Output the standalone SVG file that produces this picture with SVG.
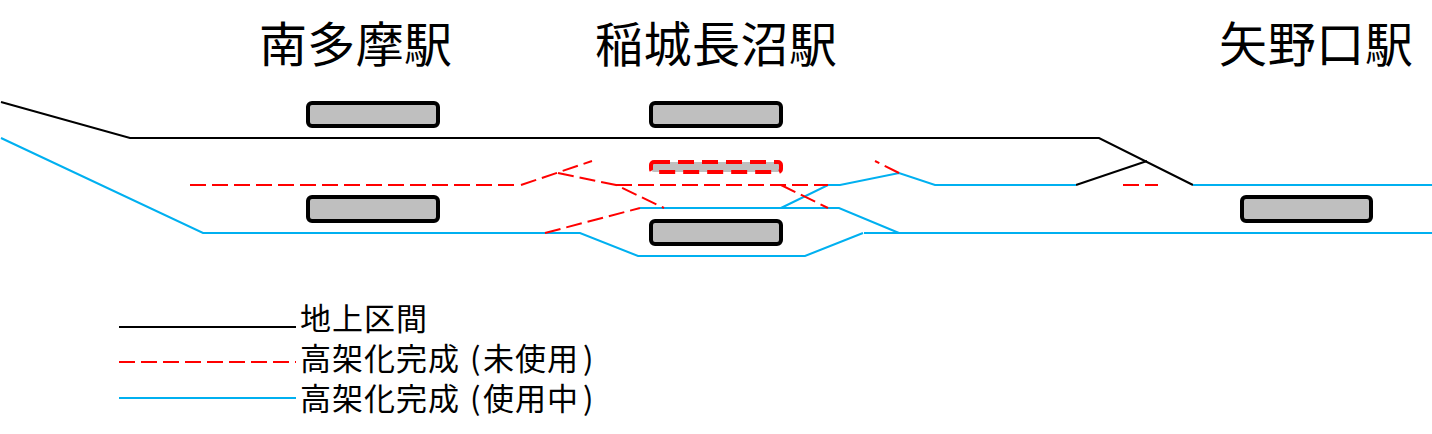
<svg xmlns="http://www.w3.org/2000/svg" width="1432" height="434" viewBox="0 0 1432 434">
<style>
.t{font-family:"Noto Sans CJK JP","Noto Sans CJK SC",sans-serif;fill:#000}
.h{font-size:48px}
.l{font-size:31px}
.k,.b,.r{fill:none;stroke-width:2}
.k{stroke:#000}
.b{stroke:#00b0f0}
.r{stroke:#f00;stroke-dasharray:16 6}
.p{fill:#bfbfbf;stroke:#000;stroke-width:4}
.q{fill:#bfbfbf;stroke:#f00;stroke-width:4;stroke-dasharray:16 8}
</style>
<rect width="1432" height="434" fill="#fff"/>
<g id="connectors">
<path class="k" d="M1 102L130 138H1099L1193 185"/>
<path class="k" d="M1076 185L1147 161"/>
<path class="b" d="M1 138L203 233H580L638 256H805L863 233"/>
<path class="b" d="M864 233H1432"/>
<path class="b" d="M640 208H839L899 233"/>
<path class="b" d="M781 208L828 185H840L899 173L935 185H1076"/>
<path class="b" d="M1193 185H1432"/>
<path class="r" d="M190 185H515"/>
<path class="r" d="M521 185L592 161"/>
<path class="r" d="M558 173L616 185L664 208"/>
<path class="r" d="M616 185H828"/>
<path class="r" d="M781 185L828 208"/>
<path class="r" d="M899 173L875 161"/>
<path class="r" d="M545 233L640 208"/>
<path class="r" d="M1123 185H1158" stroke-dasharray="13 6"/>
<path class="k" d="M119 327H296"/>
<path class="r" d="M119 362H296"/>
<path class="b" d="M119 398H296"/>
</g>
<g id="platform-minamitama-1"><rect class="p" x="308" y="103" width="130" height="23" rx="4"/></g>
<g id="platform-minamitama-2"><rect class="p" x="308" y="197" width="130" height="24" rx="4"/></g>
<g id="platform-inagi-1"><rect class="p" x="651" y="103" width="130" height="23" rx="4"/></g>
<g id="platform-inagi-2"><rect class="q" x="651" y="162" width="130" height="10" rx="3"/></g>
<g id="platform-inagi-3"><rect class="p" x="651" y="221" width="130" height="23" rx="4"/></g>
<g id="platform-yanokuchi"><rect class="p" x="1242" y="197" width="129" height="24" rx="4"/></g>
<g id="station-minamitama"><text class="t h" x="259" y="62" textLength="193">南多摩駅</text></g>
<g id="station-inagi"><text class="t h" x="595" y="62" textLength="242">稲城長沼駅</text></g>
<g id="station-yanokuchi"><text class="t h" x="1219" y="62" textLength="194">矢野口駅</text></g>
<g id="legend">
<text class="t l" x="300 332 364 396" y="330">地上区間</text>
<text class="t l" x="300 332 364 396 428 470 483 515 547 583" y="370">高架化完成(未使用)</text>
<text class="t l" x="300 332 364 396 428 470 483 515 547 583" y="410">高架化完成(使用中)</text>
</g>
</svg>
